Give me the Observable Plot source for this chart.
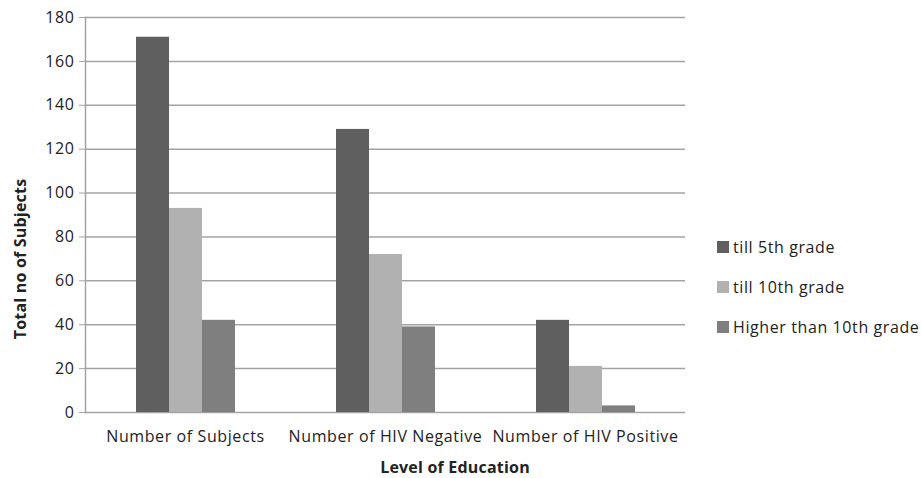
<!DOCTYPE html>
<html><head><meta charset="utf-8">
<script src="https://cdn.jsdelivr.net/npm/d3@7"></script>
<script src="https://cdn.jsdelivr.net/npm/@observablehq/plot@0.6"></script>
<style>
body{margin:0;background:#fff;}
#wrap{position:relative;width:921px;height:478px;font-family:"Open Sans",sans-serif;color:#222;}
svg text{letter-spacing:0.6px;}
#legend{position:absolute;left:717px;top:227px;font-size:16px;letter-spacing:0.6px;}
.item{display:flex;align-items:center;height:40px;white-space:nowrap;}
.sw{width:12px;height:12px;margin-right:4px;}
.title{position:absolute;font-weight:bold;font-size:16px;white-space:nowrap;transform:translate(-50%,-50%);letter-spacing:0.2px;}
#ytitle{left:20px;top:259px;transform:translate(-50%,-50%) rotate(-90deg);}
#xtitle{left:455px;top:467px;}
</style></head><body><div id="wrap"><div id="legend"></div><div id="ytitle" class="title"></div><div id="xtitle" class="title"></div></div>
<script>
const categories = ["Number of Subjects", "Number of HIV Negative", "Number of HIV Positive"];
const seriesNames = ["till 5th grade", "till 10th grade", "Higher than 10th grade"];
const till5th = [171, 129, 42];
const till10th = [93, 72, 21];
const higher10th = [42, 39, 3];
const yTicks = [0, 20, 40, 60, 80, 100, 120, 140, 160, 180];
const colors = ["#5f5f5f", "#b1b1b1", "#7f7f7f"];
const yTitle = "Total no of Subjects";
const xTitle = "Level of Education";

const seriesValues = [till5th, till10th, higher10th];
const data = categories.flatMap((c, i) => seriesValues.map((arr, j) => ({category: c, series: seriesNames[j], value: arr[i]})));

const chart = Plot.plot({
  width: 921, height: 478,
  marginLeft: 85, marginRight: 236, marginTop: 17, marginBottom: 66,
  style: {fontFamily: "Open Sans", fontSize: "16px", color: "#222", background: "white"},
  fx: {domain: categories, padding: 0},
  x: {domain: seriesNames, paddingInner: 0, paddingOuter: 1.5, axis: null},
  y: {domain: [0, 180]},
  color: {domain: seriesNames, range: colors},
  marks: [
    Plot.gridY(yTicks, {stroke: "#a3a3a3", strokeOpacity: 1, strokeWidth: 1.5}),
    Plot.frame({anchor: "left", facetAnchor: "left", stroke: "#a3a3a3", strokeWidth: 1.5}),
    Plot.barY(data, {fx: "category", x: "series", y: "value", fill: "series"}),
    Plot.axisY(yTicks, {tickSize: 6, tickPadding: 5, stroke: "#a3a3a3", label: null, fontSize: 16}),
    Plot.axisFx({anchor: "bottom", tickSize: 0, tickPadding: 18, label: null, fontSize: 16})
  ]
});
document.getElementById("wrap").prepend(chart);

document.getElementById("ytitle").textContent = yTitle;
document.getElementById("xtitle").textContent = xTitle;

const legend = document.getElementById("legend");
seriesNames.forEach((s, j) => {
  const it = document.createElement("div");
  it.className = "item";
  const sw = document.createElement("span");
  sw.className = "sw";
  sw.style.background = colors[j];
  const tx = document.createElement("span");
  tx.textContent = s;
  it.append(sw, tx);
  legend.append(it);
});
</script></body></html>
